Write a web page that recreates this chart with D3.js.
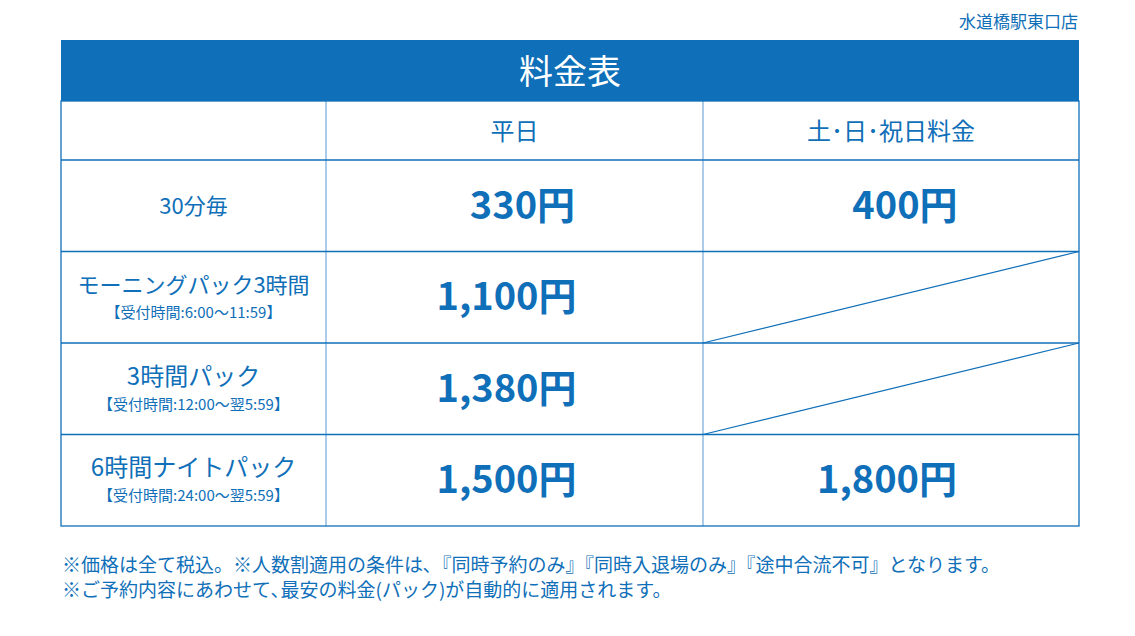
<!DOCTYPE html>
<html><head><meta charset="utf-8">
<script src="https://cdn.jsdelivr.net/npm/d3@7"></script>
<style>body{margin:0;background:#fff}text{font-family:"Noto Sans CJK JP",sans-serif}</style>
</head><body><svg id="c" width="1135" height="636"></svg>
<script>
var store = "水道橋駅東口店";
var title = "料金表";
var columns = ["", "平日", "土･日･祝日料金"];
var plans = ["30分毎", "モーニングパック3時間", "3時間パック", "6時間ナイトパック"];
var planHours = ["", "【受付時間:6:00～11:59】", "【受付時間:12:00～翌5:59】", "【受付時間:24:00～翌5:59】"];
var weekday = ["330円", "1,100円", "1,380円", "1,500円"];
var holiday = ["400円", null, null, "1,800円"];
var notes = ["※価格は全て税込。※人数割適用の条件は､『同時予約のみ』『同時入退場のみ』『途中合流不可』となります。",
             "※ご予約内容にあわせて､最安の料金(パック)が自動的に適用されます。"];

var blue = "#0f6fb8", light = "#7fb1dd";
var svg = d3.select("#c");
var x = d3.scaleOrdinal().domain([0,1,2,3]).range([61,326,703,1079]);
var yHead = [40,101,160];
var y = d3.scaleLinear().domain([0,4]).range([160,526]);

svg.append("text").attr("x",1078).attr("y",28).attr("text-anchor","end")
  .attr("font-size",17).attr("fill",blue).text(store);
svg.append("rect").attr("x",61).attr("y",yHead[0]).attr("width",1018).attr("height",yHead[1]-yHead[0]).attr("fill",blue);
svg.append("text").attr("x",570).attr("y",84).attr("text-anchor","middle")
  .attr("font-size",34).attr("fill","#fff").text(title);

// grid
var g = svg.append("g").attr("stroke",light).attr("stroke-width",1.3);
[1,2].forEach(function(i){ g.append("line").attr("x1",x(i)).attr("x2",x(i)).attr("y1",yHead[1]).attr("y2",y(4)); });
[1,2,3].forEach(function(i){ g.append("line").attr("x1",61).attr("x2",1079).attr("y1",y(i)).attr("y2",y(i)).attr("stroke",blue); });
g.append("line").attr("x1",61).attr("x2",1079).attr("y1",y(0)).attr("y2",y(0)).attr("stroke",blue);
svg.append("rect").attr("x",61).attr("y",yHead[1]).attr("width",1018).attr("height",y(4)-yHead[1])
  .attr("fill","none").attr("stroke",blue).attr("stroke-width",1.3);

// column headers
columns.forEach(function(c,i){
  if(!c) return;
  svg.append("text").attr("x",(x(i)+x(i+1))/2).attr("y",140).attr("text-anchor","middle")
    .attr("font-size",24).attr("fill",blue).text(c);
});

plans.forEach(function(p,i){
  var cy = (y(i)+y(i+1))/2, cx = (x(0)+x(1))/2;
  if(planHours[i]){
    svg.append("text").attr("x",cx).attr("y",cy-4).attr("text-anchor","middle").attr("font-size",i==1?22:24).attr("fill",blue).text(p);
    svg.append("text").attr("x",cx).attr("y",cy+21).attr("text-anchor","middle").attr("font-size",15).attr("fill",blue).text(planHours[i]);
  } else {
    svg.append("text").attr("x",cx).attr("y",cy+8).attr("text-anchor","middle").attr("font-size",22).attr("fill",blue).text(p);
  }
  svg.append("text").attr("x",(x(1)+x(2))/2 - (i?8:-8)).attr("y",cy+13).attr("text-anchor","middle")
    .attr("font-family","Roboto,sans-serif").attr("font-weight","bold").attr("font-size",38).attr("fill",blue).text(weekday[i]);
  if(holiday[i]){
    svg.append("text").attr("x",(x(2)+x(3))/2 + (i?-4:14)).attr("y",cy+13).attr("text-anchor","middle")
      .attr("font-family","Roboto,sans-serif").attr("font-weight","bold").attr("font-size",38).attr("fill",blue).text(holiday[i]);
  } else {
    svg.append("line").attr("x1",x(2)).attr("y1",y(i+1)).attr("x2",x(3)).attr("y2",y(i))
      .attr("stroke",blue).attr("stroke-width",1.2);
  }
});

notes.forEach(function(n,i){
  svg.append("text").attr("x",62).attr("y",572+i*25).attr("font-size",19).attr("fill",blue).text(n);
});
</script></body></html>
